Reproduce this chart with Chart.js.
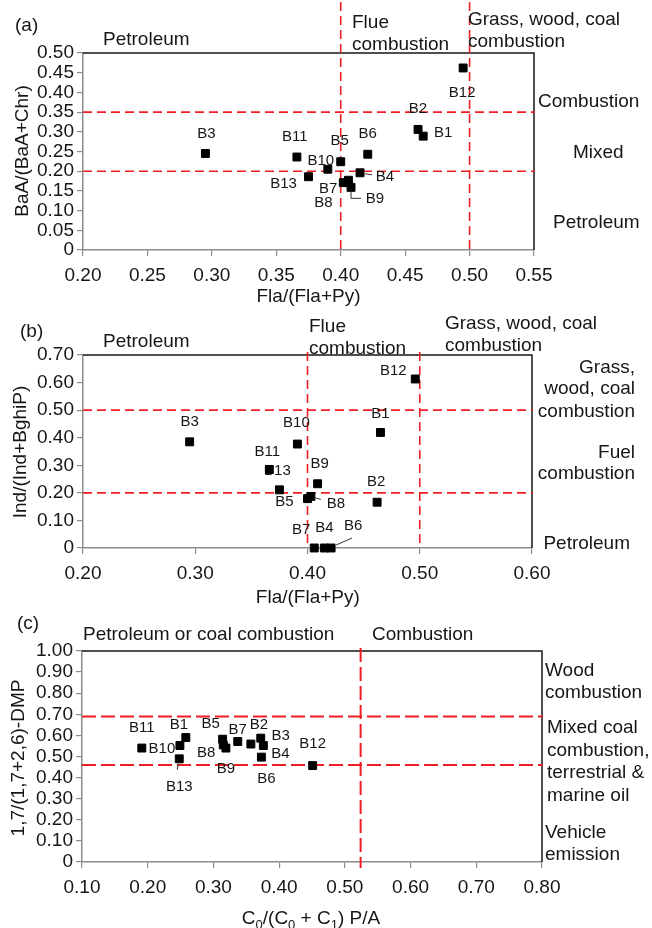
<!DOCTYPE html>
<html>
<head>
<meta charset="utf-8">
<script src="https://cdn.jsdelivr.net/npm/chart.js@4.4.1/dist/chart.umd.min.js"></script>
<style>
  html, body { margin: 0; padding: 0; background: #fff; }
  #wrap { position: relative; width: 652px; height: 928px; overflow: hidden; }
  #wrap canvas { position: absolute; left: 0; }
</style>
</head>
<body>
<div id="wrap">
  <canvas id="chart-a" width="652" height="310" style="top:0px"></canvas>
  <canvas id="chart-b" width="652" height="310" style="top:300px"></canvas>
  <canvas id="chart-c" width="652" height="318" style="top:610px"></canvas>
</div>
<script>
// ── Data ──────────────────────────────────────
const SAMPLES = ['B1', 'B2', 'B3', 'B4', 'B5', 'B6', 'B7', 'B8', 'B9', 'B10', 'B11', 'B12', 'B13'];

// (a) Fla/(Fla+Py) vs BaA/(BaA+Chr)
const flaA = [0.464, 0.460, 0.295, 0.415, 0.400, 0.421, 0.402, 0.406, 0.408, 0.390, 0.366, 0.495, 0.375];
const baaA = [0.289, 0.306, 0.245, 0.196, 0.224, 0.243, 0.171, 0.177, 0.159, 0.205, 0.236, 0.462, 0.186];
const xTicksA = [0.20, 0.25, 0.30, 0.35, 0.40, 0.45, 0.50, 0.55];
const yTicksA = [0, 0.05, 0.10, 0.15, 0.20, 0.25, 0.30, 0.35, 0.40, 0.45, 0.50];
const vLinesA = [0.40, 0.50];
const hLinesA = [0.20, 0.35];

// (b) Fla/(Fla+Py) vs Ind/(Ind+BghiP)
const flaB = [0.465, 0.462, 0.295, 0.415, 0.400, 0.421, 0.406, 0.403, 0.409, 0.391, 0.366, 0.496, 0.375];
const indB = [0.419, 0.166, 0.385, 0, 0.179, 0, 0, 0.187, 0.233, 0.377, 0.285, 0.613, 0.211];
const xTicksB = [0.20, 0.30, 0.40, 0.50, 0.60];
const yTicksB = [0, 0.10, 0.20, 0.30, 0.40, 0.50, 0.60, 0.70];
const vLinesB = [0.40, 0.50];
const hLinesB = [0.20, 0.50];

// (c) C0/(C0+C1) P/A vs 1,7/(1,7+2,6)-DMP
const c0C  = [0.258, 0.357, 0.372, 0.376, 0.314, 0.373, 0.337, 0.315, 0.319, 0.249, 0.191, 0.451, 0.248];
const dmpC = [0.590, 0.559, 0.587, 0.552, 0.582, 0.497, 0.571, 0.555, 0.540, 0.552, 0.540, 0.457, 0.489];
const xTicksC = [0.10, 0.20, 0.30, 0.40, 0.50, 0.60, 0.70, 0.80];
const yTicksC = [0, 0.10, 0.20, 0.30, 0.40, 0.50, 0.60, 0.70, 0.80, 0.90, 1.00];
const vLinesC = [0.524];
const hLinesC = [0.46, 0.69];

// ── Styling helpers ───────────────────────────
const FONT = '"Liberation Sans", Arial, Helvetica, sans-serif';
const RED  = 'rgb(238,30,36)';
const INK  = '#161616';
const W    = 652;
const fmt  = v => v === 0 ? '0' : v.toFixed(2);

// label offsets (px) from each marker, per panel
const offA = { B1: [20, -3], B2: [0, -21], B3: [1, -20], B4: [25, 4], B5: [-1, -21], B6: [0, -20], B7: [-15, 6],
  B8: [-25, 23], B9: [24, 12], B10: [-7, -8], B11: [-2, -20], B12: [-1, 25], B13: [-25, 7] };
const offB = { B1: [0, -19], B2: [-1, -20], B3: [0, -20], B4: [0, -20], B5: [-23, 3], B6: [22, -22], B7: [-13, -18],
  B8: [25, 7], B9: [2, -20], B10: [-1, -21], B11: [-2, -18], B12: [-22, -8], B13: [-2, -19] };
const offC = { B1: [-7, -13], B2: [8, -19], B3: [20, -2], B4: [17, 8], B5: [-12, -15], B6: [5, 22], B7: [0, -12],
  B8: [-17, 8], B9: [0, 21], B10: [-18, 3], B11: [0, -20], B12: [0, -22], B13: [0, 28] };

function overlay(o) {
  return {
    id: 'overlay',
    beforeDatasetsDraw(chart) {
      const { ctx, chartArea: a } = chart;
      const x = chart.scales.x, y = chart.scales.y;
      ctx.save();
      // black top/right frame
      ctx.strokeStyle = INK;
      ctx.lineWidth = 1.5;
      ctx.beginPath();
      ctx.moveTo(a.left, a.top); ctx.lineTo(a.right, a.top); ctx.lineTo(a.right, a.bottom);
      ctx.stroke();

      // red dashed boundaries
      ctx.strokeStyle = RED;
      ctx.lineWidth = o.dashWidth;
      ctx.setLineDash(o.dash);
      o.vLines.forEach(v => {
        const px = x.getPixelForValue(v);
        ctx.beginPath(); ctx.moveTo(px, o.vTop(a)); ctx.lineTo(px, a.bottom + o.vBelow); ctx.stroke();
      });
      o.hLines.forEach(v => {
        const py = y.getPixelForValue(v);
        ctx.beginPath(); ctx.moveTo(a.left, py); ctx.lineTo(a.right + 1, py); ctx.stroke();
      });
      ctx.setLineDash([]);

      // sample labels (under the markers)
      ctx.font = `15px ${FONT}`;
      ctx.fillStyle = INK;
      ctx.textAlign = 'center';
      ctx.textBaseline = 'middle';
      SAMPLES.forEach((s, i) => {
        const px = x.getPixelForValue(o.xs[i]), py = y.getPixelForValue(o.ys[i]);
        const [dx, dy] = o.offsets[s];
        ctx.fillText(s, px + dx, py + dy);
      });

      // leader lines
      ctx.strokeStyle = '#333';
      ctx.lineWidth = 1;
      (o.leaders || []).forEach(([s, path]) => {
        const i = SAMPLES.indexOf(s);
        const px = x.getPixelForValue(o.xs[i]), py = y.getPixelForValue(o.ys[i]);
        ctx.beginPath();
        for (let k = 0; k < path.length; k += 2) {
          const fn = k === 0 ? 'moveTo' : 'lineTo';
          ctx[fn](px + path[k], py + path[k + 1]);
        }
        ctx.stroke();
      });
      ctx.restore();
    },
    afterDraw(chart) {
      const ctx = chart.ctx;
      ctx.save();
      ctx.fillStyle = INK;
      ctx.font = `19px ${FONT}`;
      ctx.textBaseline = 'alphabetic';
      o.texts.forEach(([t, tx, ty, align]) => {
        ctx.textAlign = align || 'left';
        ctx.fillText(t, tx, ty);
      });

      // y-axis title
      ctx.save();
      ctx.translate(o.yTitle[1], o.yTitle[2]);
      ctx.rotate(-Math.PI / 2);
      ctx.textAlign = 'center';
      ctx.textBaseline = 'middle';
      ctx.fillText(o.yTitle[0], 0, 0);
      ctx.restore();

      // x-axis title, pieces may be subscripts
      const parts = o.xTitle[0];
      const size = p => p[1] ? 13 : 19;
      let total = 0;
      parts.forEach(p => { ctx.font = `${size(p)}px ${FONT}`; total += ctx.measureText(p[0]).width; });
      let cx = o.xTitle[1] - total / 2;
      ctx.textAlign = 'left';
      parts.forEach(p => {
        ctx.font = `${size(p)}px ${FONT}`;
        ctx.fillText(p[0], cx, o.xTitle[2] + (p[1] ? 5 : 0));
        cx += ctx.measureText(p[0]).width;
      });
      ctx.restore();
    },
  };
}

function makePanel(id, o) {
  const H = document.getElementById(id).height;
  const pts = o.xs.map((v, i) => ({ x: v, y: o.ys[i] }));
  const tickFont = { family: FONT, size: 19 };
  return new Chart(document.getElementById(id), {
    type: 'scatter',
    data: {
      datasets: [{
        data: pts,
        pointStyle: 'rect',
        pointRadius: 5.6,
        pointHoverRadius: 5.6,
        backgroundColor: '#000',
        borderColor: '#000',
        borderWidth: 1,
        clip: false,
      }],
    },
    options: {
      responsive: false,
      animation: false,
      events: [],
      layout: { padding: { top: o.area.top, right: W - o.area.right, left: 0, bottom: 0 } },
      plugins: { legend: { display: false }, tooltip: { enabled: false } },
      scales: {
        x: {
          type: 'linear',
          min: o.xTicks[0], max: o.xTicks[o.xTicks.length - 1],
          afterBuildTicks: s => { s.ticks = o.xTicks.map(v => ({ value: v })); },
          afterFit: s => { s.height = H - o.area.bottom; },
          ticks: { callback: fmt, font: tickFont, color: INK, padding: 8, maxRotation: 0, autoSkip: false },
          grid: { drawOnChartArea: false, tickLength: 6, color: '#8c8c8c', lineWidth: 1.2 },
          border: { color: '#8c8c8c', width: 1.5 },
        },
        y: {
          type: 'linear',
          min: o.yTicks[0], max: o.yTicks[o.yTicks.length - 1],
          afterBuildTicks: s => { s.ticks = o.yTicks.map(v => ({ value: v })); },
          afterFit: s => { s.width = o.area.left; },
          ticks: { callback: fmt, font: tickFont, color: INK, padding: 3, autoSkip: false },
          grid: { drawOnChartArea: false, tickLength: 6, color: '#8c8c8c', lineWidth: 1.2 },
          border: { color: '#8c8c8c', width: 1.5 },
        },
      },
    },
    plugins: [overlay(o)],
  });
}

// ── (a) ───────────────────────────────────────
makePanel('chart-a', {
  xs: flaA, ys: baaA, xTicks: xTicksA, yTicks: yTicksA,
  vLines: vLinesA, hLines: hLinesA,
  area: { left: 83, top: 53, right: 534, bottom: 250 },
  dash: [9, 5], dashWidth: 1.6, vTop: () => 2, vBelow: 0,
  offsets: offA,
  leaders: [['B4', [5, 1, 12, 2]], ['B9', [0, 4, 0, 11, 10, 11]]],
  texts: [
    ['(a)', 15, 31], ['Petroleum', 103, 45],
    ['Flue', 352, 28], ['combustion', 352, 50],
    ['Grass, wood, coal', 468, 24.5], ['combustion', 468, 46.5],
    ['Combustion', 538, 107], ['Mixed', 573, 158], ['Petroleum', 553, 228],
  ],
  yTitle: ['BaA/(BaA+Chr)', 23, 151],
  xTitle: [[['Fla/(Fla+Py)', false]], 308.5, 302],
});

// ── (b) ───────────────────────────────────────
makePanel('chart-b', {
  xs: flaB, ys: indB, xTicks: xTicksB, yTicks: yTicksB,
  vLines: vLinesB, hLines: hLinesB,
  area: { left: 83, top: 55, right: 532, bottom: 248 },
  dash: [9, 5], dashWidth: 1.6, vTop: a => a.top - 3, vBelow: 0,
  offsets: offB,
  leaders: [['B6', [5, -3, 21, -10]], ['B8', [3, 1, 10, 3]]],
  texts: [
    ['(b)', 20, 36.5], ['Petroleum', 103, 47.3],
    ['Flue', 309, 32], ['combustion', 309, 54.3],
    ['Grass, wood, coal', 445, 29.3], ['combustion', 445, 51],
    ['Grass,', 635, 72.7, 'right'], ['wood, coal', 635, 94.3, 'right'], ['combustion', 635, 116.7, 'right'],
    ['Fuel', 635, 157.7, 'right'], ['combustion', 635, 179.3, 'right'],
    ['Petroleum', 630, 249.3, 'right'],
  ],
  yTitle: ['Ind/(Ind+BghiP)', 21, 152],
  xTitle: [[['Fla/(Fla+Py)', false]], 307.8, 302.5],
});

// ── (c) ───────────────────────────────────────
makePanel('chart-c', {
  xs: c0C, ys: dmpC, xTicks: xTicksC, yTicks: yTicksC,
  vLines: vLinesC, hLines: hLinesC,
  area: { left: 82, top: 41, right: 542, bottom: 252 },
  dash: [14, 5], dashWidth: 2, vTop: a => a.top - 3, vBelow: 6,
  offsets: offC,
  leaders: [['B13', [-1, 5, -2, 11]]],
  texts: [
    ['(c)', 17, 19.3], ['Petroleum or coal combustion', 83, 30], ['Combustion', 372, 30],
    ['Wood', 545, 66], ['combustion', 545, 88.3],
    ['Mixed coal', 547, 123.3], ['combustion,', 547, 145.7], ['terrestrial &', 547, 167.7], ['marine oil', 547, 190.7],
    ['Vehicle', 545, 227.7], ['emission', 545, 250],
  ],
  yTitle: ['1,7/(1,7+2,6)-DMP', 19, 148],
  xTitle: [[['C', false], ['0', true], ['/(C', false], ['0', true], [' + C', false], ['1', true], [') P/A', false]], 311, 314],
});
</script>
</body>
</html>
